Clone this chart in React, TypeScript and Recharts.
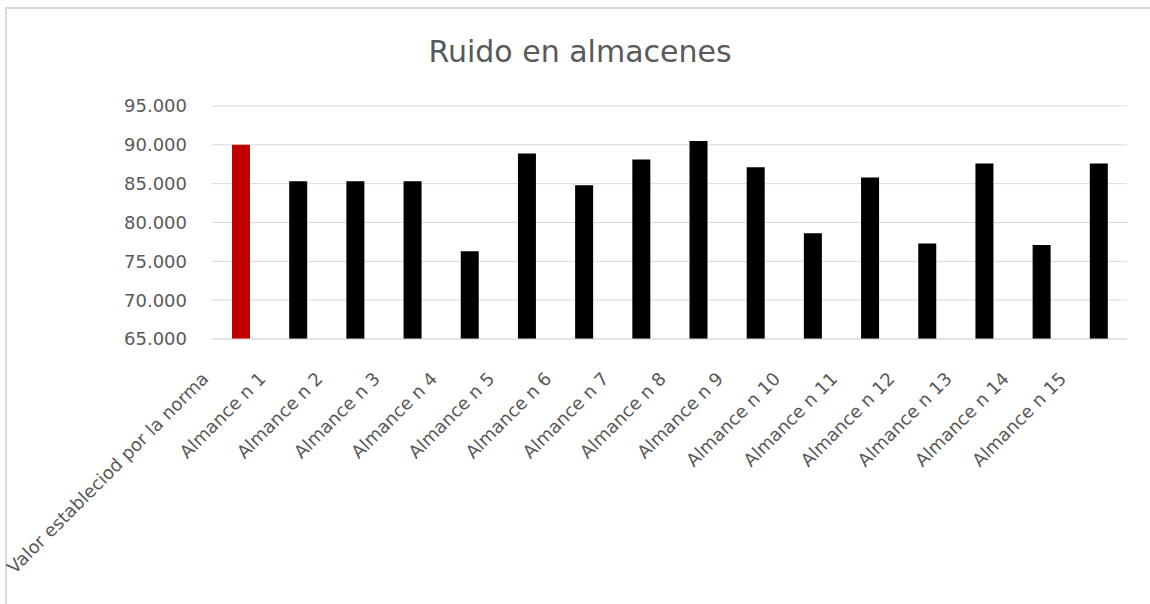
import { BarChart, Bar, XAxis, YAxis, CartesianGrid, Cell } from "recharts";

const categories = [
  "Valor estableciod por la norma",
  "Almance n 1",
  "Almance n 2",
  "Almance n 3",
  "Almance n 4",
  "Almance n 5",
  "Almance n 6",
  "Almance n 7",
  "Almance n 8",
  "Almance n 9",
  "Almance n 10",
  "Almance n 11",
  "Almance n 12",
  "Almance n 13",
  "Almance n 14",
  "Almance n 15",
];

const ruido = [90.0, 85.3, 85.3, 85.3, 76.3, 88.9, 84.8, 88.1, 90.5, 87.1, 78.6, 85.8, 77.3, 87.6, 77.1, 87.6];

const yTicks = [65, 70, 75, 80, 85, 90, 95];

const data = categories.map((name, i) => ({ name, value: ruido[i] }));

const FONT = "DejaVu Sans";
const TEXT = "#595959";

const AngledTick = (props: any) => {
  const { x, y, payload } = props;
  return (
    <text
      transform={`translate(${x - 31},${y + 41}) rotate(-45)`}
      textAnchor="end"
      fill={TEXT}
      fontSize={18}
      fontFamily={FONT}
    >
      {payload.value}
    </text>
  );
};

const App = () => {
  return (
    <div style={{ position: "absolute", left: 0, top: 0, width: 1150, height: 604, background: "#fff", overflow: "hidden" }}>
      <div
        style={{
          position: "absolute",
          left: 5,
          top: 7,
          width: 1160,
          height: 620,
          borderTop: "2px solid #d9d9d9",
          borderLeft: "2px solid #d9d9d9",
        }}
      />
      <svg style={{ position: "absolute", left: 0, top: 0 }} width={1150} height={100}>
        <text x={580} y={62} textAnchor="middle" fill={TEXT} fontSize={30} fontFamily={FONT}>
          Ruido en almacenes
        </text>
      </svg>
      <div style={{ position: "absolute", left: 0, top: 0 }}>
        <BarChart width={1150} height={604} data={data} margin={{ top: 106, right: 23, left: 0, bottom: 0 }} barSize={18}>
          <CartesianGrid vertical={false} stroke="#d9d9d9" />
          <XAxis
            dataKey="name"
            interval={0}
            height={265}
            tickLine={false}
            tickSize={0}
            tickMargin={0}
            axisLine={{ stroke: "#d9d9d9" }}
            tick={<AngledTick />}
          />
          <YAxis
            domain={[65, 95]}
            ticks={yTicks}
            width={212}
            axisLine={false}
            tickLine={false}
            tickSize={0}
            tickMargin={25}
            tickFormatter={(v: number) => v.toFixed(3)}
            tick={{ fill: TEXT, fontSize: 18, fontFamily: FONT }}
          />
          <Bar dataKey="value" isAnimationActive={false}>
            {data.map((d, i) => (
              <Cell key={d.name} fill={i === 0 ? "#c00000" : "#000000"} />
            ))}
          </Bar>
        </BarChart>
      </div>
    </div>
  );
};

export default App;
